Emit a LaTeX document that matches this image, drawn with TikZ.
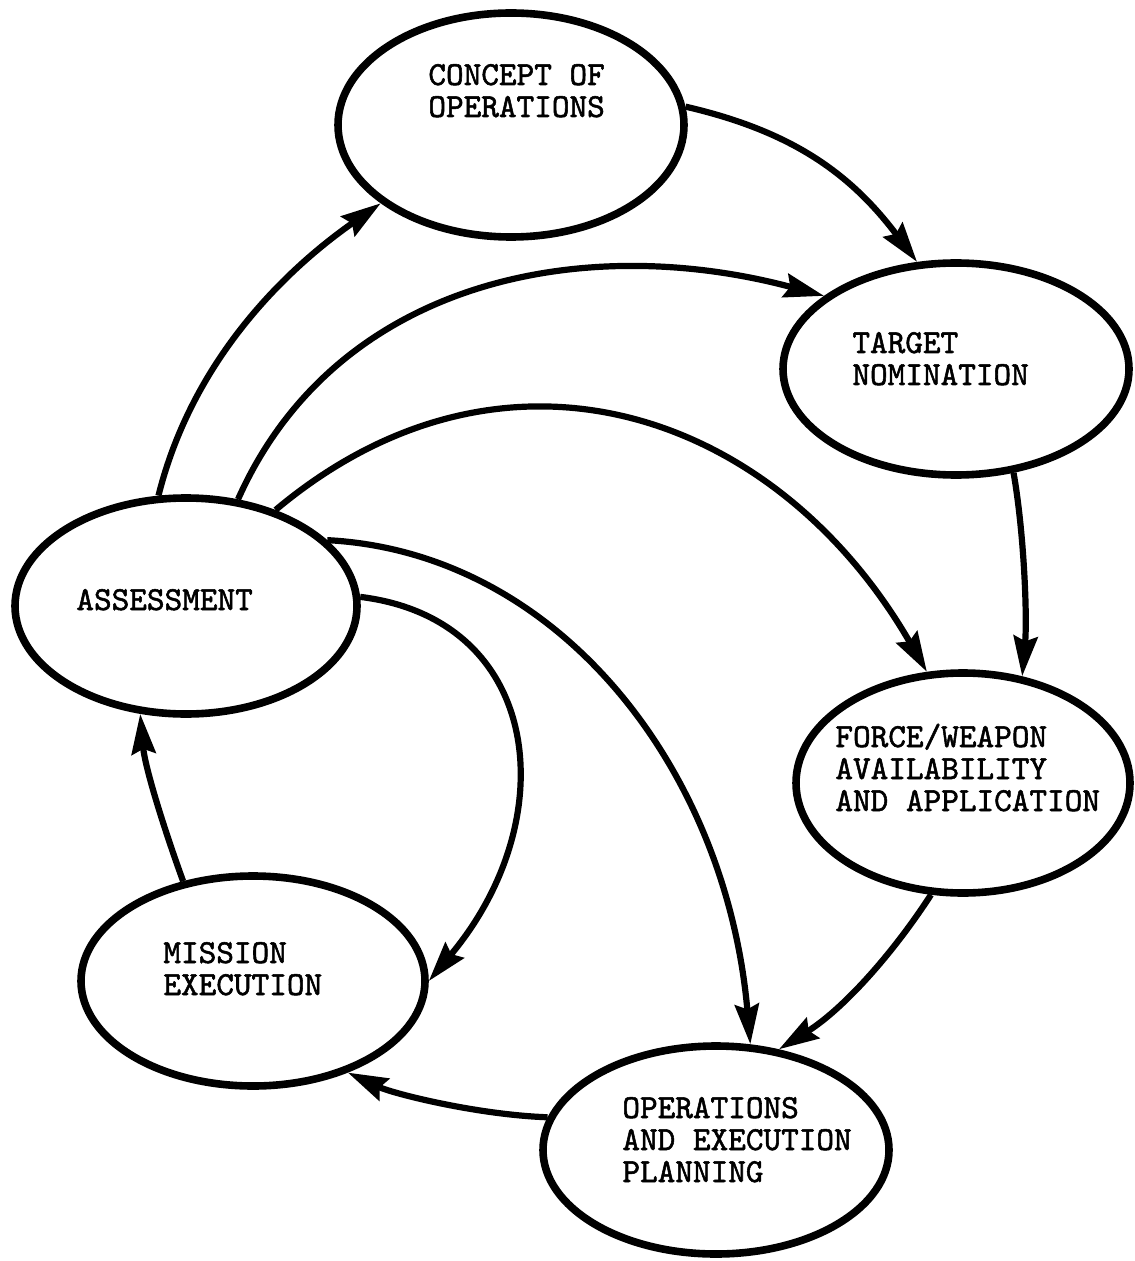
\documentclass[tikz,border=0pt]{standalone}
\usepackage{fontspec}
\newfontfamily\twfont{lmmono10-regular.otf}[FakeBold=1.6]
\usetikzlibrary{arrows.meta,shapes.geometric}
\begin{document}
\begin{tikzpicture}[x=0.5pt,y=-0.5pt,
  state/.style={draw, ellipse, line width=3.8pt, inner sep=0pt},
  lbl/.style={anchor=base west, inner sep=0pt, font=\twfont\fontsize{16.8}{16}\selectfont},
  flow/.style={line width=3.1pt, -{Stealth[length=20pt,width=12pt,inset=2.5pt]}}]
\fill[white] (0,0) rectangle (1134,1261);
\useasboundingbox (0,0) rectangle (1134,1261);

\node[state, minimum width=173pt, minimum height=112pt] (concept) at (511,125) {};
\node[state, minimum width=173pt, minimum height=106pt] (target)  at (956,369) {};
\node[state, minimum width=171pt, minimum height=108pt] (assess)  at (186,606) {};
\node[state, minimum width=167pt, minimum height=110pt] (force)   at (963,783) {};
\node[state, minimum width=172pt, minimum height=105pt] (mission) at (253,981) {};
\node[state, minimum width=173pt, minimum height=104pt] (ops)     at (716,1150) {};

\node[lbl] (tconcept) at (428,85)  {\begin{tabular}[t]{@{}l@{}}CONCEPT OF\\OPERATIONS\end{tabular}};
\node[lbl] (ttarget)  at (852,353) {\begin{tabular}[t]{@{}l@{}}TARGET\\NOMINATION\end{tabular}};
\node[lbl] (tassess)  at (76,610)  {\begin{tabular}[t]{@{}l@{}}ASSESSMENT\end{tabular}};
\node[lbl] (tforce)   at (835,747) {\begin{tabular}[t]{@{}l@{}}FORCE/WEAPON\\AVAILABILITY\\AND APPLICATION\end{tabular}};
\node[lbl] (tmission) at (163,963) {\begin{tabular}[t]{@{}l@{}}MISSION\\EXECUTION\end{tabular}};
\node[lbl] (tops)     at (622,1118) {\begin{tabular}[t]{@{}l@{}}OPERATIONS\\AND EXECUTION\\PLANNING\end{tabular}};

\draw[flow] (assess.104) .. controls +(76:65pt) and +(215:65pt) .. (concept.211);
\draw[flow] (concept.6) .. controls +(-13:55pt) and +(127:55pt) .. (target.110);
\draw[flow] (assess.64) .. controls +(66:120pt) and +(165:125pt) .. (target.151);
\draw[flow] (assess.47) .. controls +(40:150pt) and +(120:150pt) .. (force.108);
\draw[flow] (target.-61) .. controls +(-80:30pt) and +(85:30pt) .. (force.61);
\draw[flow] (assess.25) .. controls +(-3:116pt) and +(95:138pt) .. (ops.72);
\draw[flow] (assess.3) .. controls +(-7:92pt) and +(50:106pt) .. (mission.0);
\draw[flow] (force.254) .. controls +(237:37pt) and +(32:37pt) .. (ops.58);
\draw[flow] (ops.169) .. controls +(178:35pt) and +(-25:25pt) .. (mission.-44);
\draw[flow] (mission.125) .. controls +(110:27pt) and +(-85:27pt) .. (assess.247);
\end{tikzpicture}
\end{document}
